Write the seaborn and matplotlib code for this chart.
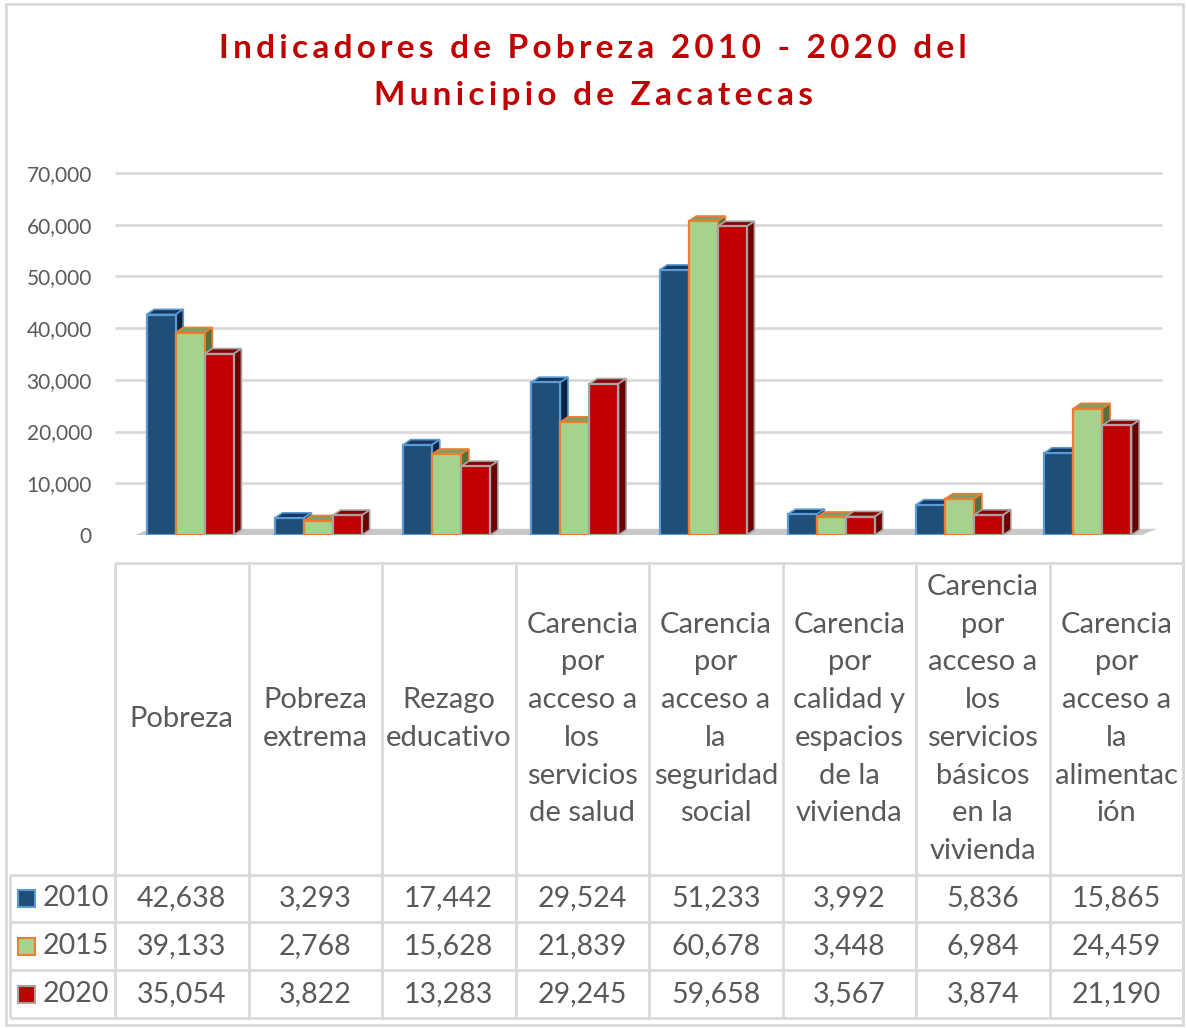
import pandas as pd
import matplotlib
matplotlib.use("Agg")
import matplotlib.pyplot as plt
from matplotlib.patches import Polygon, Rectangle
import seaborn as sns

# datos
titulo = ["Indicadores de Pobreza 2010 - 2020 del", "Municipio de Zacatecas"]
indicadores = ["Pobreza", "Pobreza extrema", "Rezago educativo",
               "Carencia por acceso a los servicios de salud",
               "Carencia por acceso a la seguridad social",
               "Carencia por calidad y espacios de la vivienda",
               "Carencia por acceso a los servicios básicos en la vivienda",
               "Carencia por acceso a la alimentación"]
encabezados = ["Pobreza", "Pobreza\nextrema", "Rezago\neducativo",
               "Carencia\npor\nacceso a\nlos\nservicios\nde salud",
               "Carencia\npor\nacceso a\nla\nseguridad\nsocial",
               "Carencia\npor\ncalidad y\nespacios\nde la\nvivienda",
               "Carencia\npor\nacceso a\nlos\nservicios\nbásicos\nen la\nvivienda",
               "Carencia\npor\nacceso a\nla\nalimentac\nión"]
anios = ["2010", "2015", "2020"]
v2010 = [42638, 3293, 17442, 29524, 51233, 3992, 5836, 15865]
v2015 = [39133, 2768, 15628, 21839, 60678, 3448, 6984, 24459]
v2020 = [35054, 3822, 13283, 29245, 59658, 3567, 3874, 21190]
yticks = [0, 10000, 20000, 30000, 40000, 50000, 60000, 70000]

colores = ["#1F4E79", "#A9D18E", "#C00000"]
bordes = ["#5B9BD5", "#ED7D31", "#A5A5A5"]
techos = ["#17375E", "#7F9E66", "#8B0000"]
lados = ["#0E243D", "#55703F", "#6A0000"]
gris = "#595959"
linea = "#D9D9D9"

df = pd.DataFrame({
    "Indicador": indicadores * 3,
    "Año": [a for a in anios for _ in indicadores],
    "Valor": v2010 + v2015 + v2020,
})

sns.set_theme(style="white")
plt.rcParams["font.family"] = ["Lato", "DejaVu Sans"]

W, H = 1186, 1028
fig = plt.figure(figsize=(W / 100, H / 100), dpi=100)

# capa de fondo para la tabla (coordenadas en pixeles)
tab = fig.add_axes([0, 0, 1, 1], zorder=0)
tab.set_xlim(0, W)
tab.set_ylim(H, 0)
tab.axis("off")

# area de grafico (la perspectiva 3D junta un poco las columnas)
ax = fig.add_axes([126 / W, 1 - 535 / H, 1026 / W, 362 / H], zorder=1)
ax.patch.set_alpha(0)

sns.barplot(data=df, x="Indicador", y="Valor", hue="Año", hue_order=anios,
            palette=colores, saturation=1, width=0.68, legend=False,
            ax=ax, zorder=4)

# efecto 3D simple
dx, dy = 0.06, 1000
for i, cont in enumerate(ax.containers):
    for p in cont.patches:
        p.set_edgecolor(bordes[i])
        p.set_linewidth(1.6)
        x0, w, h = p.get_x(), p.get_width(), p.get_height()
        ax.add_patch(Polygon([(x0, h), (x0 + w, h), (x0 + w + dx, h + dy), (x0 + dx, h + dy)],
                             closed=True, fc=techos[i], ec=bordes[i], lw=1.2, zorder=3))
        ax.add_patch(Polygon([(x0 + w, 0), (x0 + w + dx, dy), (x0 + w + dx, h + dy), (x0 + w, h)],
                             closed=True, fc=lados[i], ec=bordes[i], lw=1.2, zorder=3))

ax.set_xlim(-0.5, 7.5)
ax.set_ylim(0, 70000)
ax.hlines(yticks[1:], -0.586, 7.575, color=linea, lw=2, zorder=1, clip_on=False)
ax.add_patch(Polygon([(-0.43, 0), (7.42, 0), (7.42 + 2 * dx, dy * 1.2), (-0.43 + 2 * dx, dy * 1.2)],
                     closed=True, fc="#C8C8C8", ec="none", zorder=2, clip_on=False))
ax.set_yticks(yticks)
ax.set_yticklabels([f"{t:,}" for t in yticks])
ax.tick_params(axis="y", length=0, pad=24.5, labelsize=15, labelcolor=gris)
ax.tick_params(axis="x", bottom=False, labelbottom=False)
ax.set_xlabel("")
ax.set_ylabel("")
sns.despine(ax=ax, left=True, bottom=True)

# titulo con espaciado entre letras
for k, linea_t in enumerate(titulo):
    fig.text(0.5, 1 - (48 + 47 * k) / H, "\u200a\u200a".join(linea_t), ha="center", va="center",
             fontsize=24, fontweight="bold", color="#C00000",
             family=["Lato", "DejaVu Sans"])

# tabla de datos
col_x = [115 + 133.5 * k for k in range(9)]
filas_y = [875, 922, 970, 1018]
tab.add_patch(Rectangle((6, 4), 1177, 1021, fill=False, ec=linea, lw=2))
tab.hlines(563, col_x[0], col_x[-1], color=linea, lw=2)
tab.hlines(filas_y, 10, col_x[-1], color=linea, lw=2)
tab.vlines(col_x, 563, filas_y[-1], color=linea, lw=2)
tab.vlines(10, filas_y[0], filas_y[-1], color=linea, lw=2)

for j, enc in enumerate(encabezados):
    cx = (col_x[j] + col_x[j + 1]) / 2
    tab.text(cx, 719, enc, ha="center", va="center", fontsize=21, color=gris,
             linespacing=1.56)

series = [v2010, v2015, v2020]
for i, anio in enumerate(anios):
    cy = (filas_y[i] + filas_y[i + 1]) / 2
    tab.add_patch(Rectangle((18, cy - 8.5), 17, 17, fc=colores[i], ec=bordes[i], lw=1.5))
    tab.text(43, cy, anio, ha="left", va="center", fontsize=20.5, color=gris)
    for j, v in enumerate(series[i]):
        cx = (col_x[j] + col_x[j + 1]) / 2
        tab.text(cx, cy, f"{v:,}", ha="center", va="center", fontsize=20.5, color=gris)

plt.savefig("out.png", dpi=100)
